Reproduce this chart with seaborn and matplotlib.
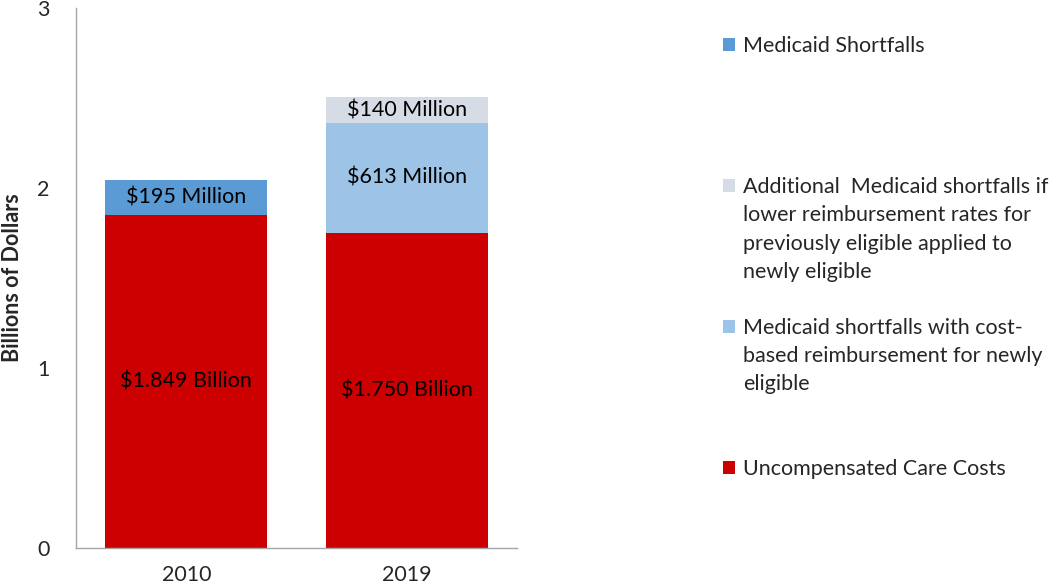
import matplotlib
matplotlib.use("Agg")
import matplotlib.pyplot as plt
from matplotlib.patches import Patch
import seaborn as sns
import numpy as np
import pandas as pd

# data (billions of dollars)
years = ["2010", "2019"]
uncompensated = [1.849, 1.750]
medicaid_shortfalls = [0.195, 0.0]
cost_based = [0.0, 0.613]
additional = [0.0, 0.140]

seg_labels = {
    "uncompensated": ["$1.849 Billion", "$1.750 Billion"],
    "medicaid_shortfalls": ["$195 Million", None],
    "cost_based": [None, "$613 Million"],
    "additional": [None, "$140 Million"],
}

legend_labels = [
    "Medicaid Shortfalls",
    "Additional  Medicaid shortfalls if\nlower reimbursement rates for\npreviously eligible applied to\nnewly eligible",
    "Medicaid shortfalls with cost-\nbased reimbursement for newly\neligible",
    "Uncompensated Care Costs",
]

colors = {
    "uncompensated": "#CC0000",
    "medicaid_shortfalls": "#5B9BD5",
    "cost_based": "#9DC3E6",
    "additional": "#D6DCE5",
}

sns.set_style("white")
plt.rcParams["font.family"] = ["Lato", "DejaVu Sans"]
FS = 15.5

order = ["uncompensated", "medicaid_shortfalls", "cost_based", "additional"]
series = {
    "uncompensated": uncompensated,
    "medicaid_shortfalls": medicaid_shortfalls,
    "cost_based": cost_based,
    "additional": additional,
}
stack = np.cumsum([series[k] for k in order], axis=0)

fig = plt.figure(figsize=(10.5, 5.86), dpi=100)
ax = fig.add_axes([0.0724, 0.0648, 0.42, 0.9215])

# draw cumulative tops from the topmost layer down so lower layers cover upper ones
for i in reversed(range(len(order))):
    df = pd.DataFrame({"year": years, "top": stack[i]})
    sns.barplot(data=df, x="year", y="top", color=colors[order[i]],
                saturation=1, width=0.735, ax=ax, linewidth=0)

# segment labels
for i, key in enumerate(order):
    bottoms = stack[i - 1] if i > 0 else np.zeros(len(years))
    for j, lab in enumerate(seg_labels[key]):
        if lab is None:
            continue
        ax.text(j, bottoms[j] + series[key][j] / 2, lab, ha="center", va="center",
                fontsize=FS, color="black")

ax.set_xlim(-0.5, 1.5)
ax.set_ylim(0, 3)
ax.set_yticks([0, 1, 2, 3])
ax.set_xlabel("")
ax.set_ylabel("Billions of Dollars", fontsize=FS, fontweight="bold", labelpad=10)
ax.tick_params(axis="both", length=0, labelsize=FS)
ax.tick_params(axis="y", pad=19)
ax.tick_params(axis="x", pad=12)
for s in ["top", "right"]:
    ax.spines[s].set_visible(False)
for s in ["left", "bottom"]:
    ax.spines[s].set_color("#a6a6a6")
    ax.spines[s].set_linewidth(1.0)

# legend: one row per text line, handle on first line of each entry
legend_colors = ["medicaid_shortfalls", "additional", "cost_based", "uncompensated"]
gaps_after = [4, 1, 2, 0]
handles, labels, hidden = [], [], []
blank = Patch(facecolor="none", edgecolor="none")
for key, text, gap in zip(legend_colors, legend_labels, gaps_after):
    lines = text.split("\n")
    handles.append(Patch(facecolor=colors[key], edgecolor="none"))
    labels.append(lines[0])
    for ln in lines[1:]:
        handles.append(blank)
        labels.append(ln)
    for _ in range(gap):
        hidden.append(len(labels))
        handles.append(blank)
        labels.append("Xg")

leg = fig.legend(handles, labels, loc="upper left", bbox_to_anchor=(0.689, 0.938),
                 frameon=False, fontsize=FS, handlelength=0.55, handleheight=0.55,
                 handletextpad=0.35, labelspacing=0.38, borderpad=0, borderaxespad=0)
for k in hidden:
    leg.get_texts()[k].set_color("none")

fig.savefig("out.png", dpi=100)
